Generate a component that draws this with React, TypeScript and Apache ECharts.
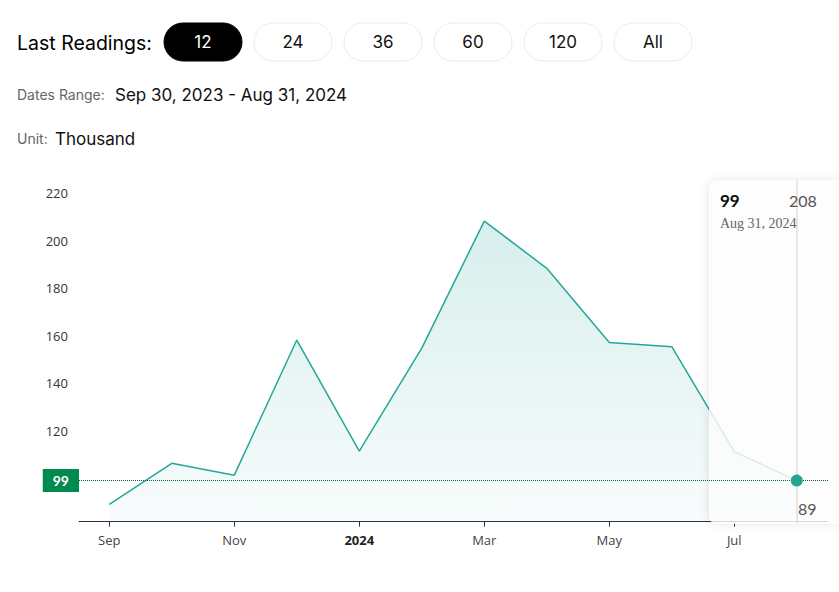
import React, { useEffect, useRef } from "react";
import * as echarts from "echarts";

const dates = [
  "Sep 30, 2023", "Oct 31, 2023", "Nov 30, 2023", "Dec 31, 2023",
  "Jan 31, 2024", "Feb 29, 2024", "Mar 31, 2024", "Apr 30, 2024",
  "May 31, 2024", "Jun 30, 2024", "Jul 31, 2024", "Aug 31, 2024",
];
const monthLabels = ["Sep", "Oct", "Nov", "Dec", "2024", "Feb", "Mar", "Apr", "May", "Jun", "Jul", "Aug"];
const values = [89, 106.3, 101.3, 158.2, 111.4, 154.8, 208.3, 188.4, 157.2, 155.4, 111.2, 99];
const yTickLabels = [120, 140, 160, 180, 200, 220];
const xTickIndices = [0, 2, 4, 6, 8, 10];
const readingButtons = ["12", "24", "36", "60", "120", "All"];
const activeButton = "12";
const latestValue = 99;
const maxValue = 208;
const minValue = 89;

export default function App() {
  const ref = useRef<HTMLDivElement>(null);
  useEffect(() => {
    if (!ref.current) return;
    const chart = echarts.init(ref.current, null, { renderer: "svg" });
    const sansFont = "Inter, 'Noto Sans', sans-serif";
    const axisFont = "'Open Sans', 'Noto Sans', sans-serif";

    const graphics: any[] = [];
    graphics.push({
      type: "text", x: 17, y: 43,
      style: { text: "Last Readings:", fontSize: 19.5, fontFamily: sansFont, fill: "#000", verticalAlign: "middle" },
    });
    readingButtons.forEach((b, i) => {
      const x = 164 + i * 90;
      const active = b === activeButton;
      graphics.push({
        type: "rect",
        shape: { x, y: 23, width: 78, height: 38, r: 19 },
        style: { fill: active ? "#000" : "#fff", stroke: active ? "#000" : "#ececec", lineWidth: 1 },
      });
      graphics.push({
        type: "text",
        x: x + 39, y: 42,
        style: {
          text: b, fontSize: 17, fontFamily: sansFont, fill: active ? "#fff" : "#111",
          align: "center", verticalAlign: "middle",
        },
      });
    });
    graphics.push({
      type: "text", x: 17, y: 94.5,
      style: { text: "Dates Range:", fontSize: 14, fontFamily: sansFont, fill: "#666", verticalAlign: "middle" },
    });
    graphics.push({
      type: "text", x: 115, y: 95,
      style: { text: `${dates[0]} - ${dates[dates.length - 1]}`, fontSize: 17, fontFamily: sansFont, fill: "#111", verticalAlign: "middle" },
    });
    graphics.push({
      type: "text", x: 17, y: 138.5,
      style: { text: "Unit:", fontSize: 14, fontFamily: sansFont, fill: "#666", verticalAlign: "middle" },
    });
    graphics.push({
      type: "text", x: 55, y: 139,
      style: { text: "Thousand", fontSize: 17, fontFamily: sansFont, fill: "#111", verticalAlign: "middle" },
    });
    // tooltip card
    graphics.push({
      type: "rect", z: 3,
      shape: { x: 709, y: 180, width: 160, height: 344, r: 8 },
      style: { fill: "rgba(255,255,255,0.8)", shadowBlur: 8, shadowColor: "rgba(0,0,0,0.12)", shadowOffsetX: -1 },
    });
    graphics.push({
      type: "line", z: 4,
      shape: { x1: 797, y1: 180, x2: 797, y2: 523 },
      style: { stroke: "#cfcfcf", lineWidth: 1 },
    });
    graphics.push({
      type: "text", z: 4, x: 720, y: 200,
      style: { text: String(latestValue), fontSize: 17, fontWeight: "bold", fontFamily: "Lato, sans-serif", fill: "#111", verticalAlign: "middle" },
    });
    graphics.push({
      type: "text", z: 4, x: 720, y: 223,
      style: { text: dates[dates.length - 1], fontSize: 14, fontFamily: "'Liberation Serif', serif", fill: "#666", verticalAlign: "middle" },
    });
    graphics.push({
      type: "text", z: 4, x: 789, y: 200,
      style: { text: String(maxValue), fontSize: 16, fontFamily: "Lato, sans-serif", fill: "#555", verticalAlign: "middle" },
    });
    graphics.push({
      type: "text", z: 4, x: 798, y: 508,
      style: { text: String(minValue), fontSize: 16, fontFamily: "Lato, sans-serif", fill: "#555", verticalAlign: "middle" },
    });

    const lineData = values.map((v, i) => [i, v]);
    const last = lineData[lineData.length - 1];

    chart.setOption({
      animation: false,
      backgroundColor: "#fff",
      grid: { left: 79, right: 11, top: 193.3, bottom: 70.3 },
      xAxis: {
        type: "value",
        min: -0.485,
        max: 11.5,
        z: 0,
        splitLine: { show: false },
        axisLine: { show: true, lineStyle: { color: "#2b2b4a", width: 1 } },
        axisTick: { show: true, customValues: xTickIndices, length: 5, lineStyle: { color: "#2b2b4a" } },
        axisLabel: {
          customValues: xTickIndices,
          margin: 12,
          fontSize: 13,
          fontFamily: axisFont,
          color: "#444",
          formatter: (v: number) => {
            const lbl = monthLabels[Math.round(v)] ?? "";
            return /^\d{4}$/.test(lbl) ? `{b|${lbl}}` : lbl;
          },
          rich: { b: { fontWeight: "bold", fontSize: 13, fontFamily: axisFont, color: "#222" } },
        },
      },
      yAxis: {
        type: "value",
        min: 81.7,
        max: 220,
        splitLine: { show: false },
        axisLine: { show: false },
        axisTick: { show: false },
        axisLabel: {
          customValues: yTickLabels,
          margin: 11,
          fontSize: 13,
          fontFamily: axisFont,
          color: "#333",
        },
      },
      series: [
        {
          type: "line",
          data: lineData,
          z: 2,
          symbol: "none",
          lineStyle: { color: "#26a69a", width: 1.5 },
          areaStyle: {
            color: new echarts.graphic.LinearGradient(0, 0, 0, 1, [
              { offset: 0, color: "rgba(38,166,154,0.26)" },
              { offset: 1, color: "rgba(38,166,154,0.05)" },
            ]),
          },
        },
        {
          type: "scatter",
          z: 20,
          data: [last],
          symbol: "circle",
          symbolSize: 12,
          itemStyle: { color: "#22a394", opacity: 1 },
          markLine: {
            silent: true,
            z: 10,
            symbol: "none",
            data: [{ yAxis: latestValue }],
            lineStyle: { type: "dotted", color: "#0a5e3c", width: 1 },
            label: {
              show: true,
              position: "start",
              distance: 0,
              formatter: String(latestValue),
              backgroundColor: "#008a4f",
              color: "#fff",
              fontWeight: "bold",
              fontSize: 14,
              fontFamily: "Lato, sans-serif",
              padding: [5, 10, 4, 10],
            },
          },
        },
      ],
      graphic: graphics,
    });
    return () => chart.dispose();
  }, []);
  return <div ref={ref} style={{ position: "fixed", left: 0, top: 0, width: 839, height: 592 }} />;
}
